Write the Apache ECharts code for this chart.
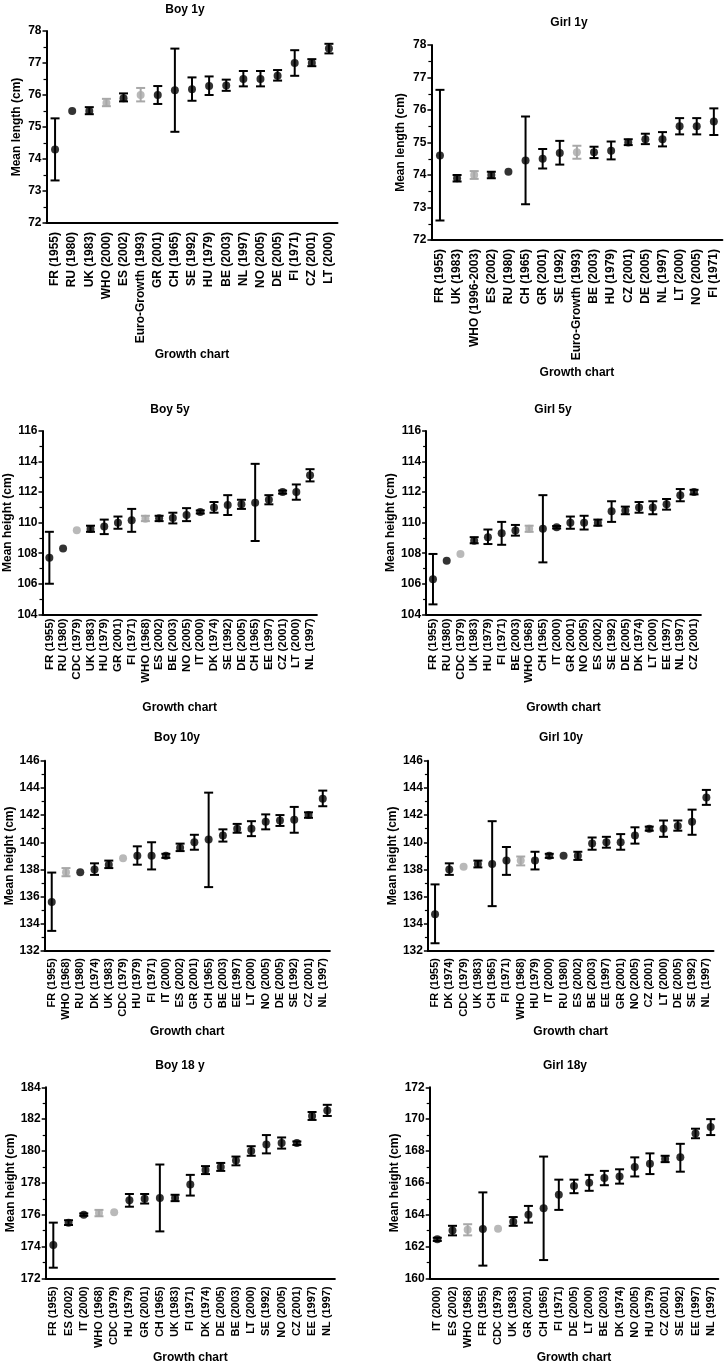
<!DOCTYPE html>
<html><head><meta charset="utf-8">
<script src="https://cdn.jsdelivr.net/npm/echarts/dist/echarts.min.js"></script>
<style>html,body{margin:0;padding:0;background:#fff}#c{width:728px;height:1365px}</style>
</head><body><div id="c"></div>
<script>
// ---------- DATA ----------
const boy1Cats = ['FR (1955)','RU (1980)','UK (1983)','WHO (2000)','ES (2002)','Euro-Growth (1993)','GR (2001)','CH (1965)','SE (1992)','HU (1979)','BE (2003)','NL (1997)','NO (2005)','DE (2005)','FI (1971)','CZ (2001)','LT (2000)'];
const boy1Mean = [74.3,75.5,75.5,75.75,75.9,76.0,76.0,76.15,76.18,76.28,76.3,76.5,76.5,76.6,77.0,77.0,77.45];
const boy1Low  = [73.33,null,75.4,75.65,75.8,75.8,75.72,74.85,75.82,76.0,76.13,76.27,76.27,76.45,76.6,76.9,77.3];
const boy1High = [75.27,null,75.62,75.88,76.05,76.22,76.28,77.45,76.55,76.58,76.48,76.75,76.75,76.78,77.4,77.12,77.6];

const girl1Cats = ['FR (1955)','UK (1983)','WHO (1996-2003)','ES (2002)','RU (1980)','CH (1965)','GR (2001)','SE (1992)','Euro-Growth (1993)','BE (2003)','HU (1979)','CZ (2001)','DE (2005)','NL (1997)','LT (2000)','NO (2005)','FI (1971)'];
const girl1Mean = [74.6,73.9,74.0,74.0,74.1,74.45,74.5,74.68,74.7,74.7,74.75,75.0,75.1,75.1,75.5,75.5,75.65];
const girl1Low  = [72.6,73.8,73.88,73.9,null,73.1,74.2,74.32,74.5,74.52,74.48,74.92,74.95,74.88,75.25,75.25,75.23];
const girl1High = [76.62,74.0,74.12,74.1,null,75.8,74.8,75.05,74.9,74.87,75.03,75.1,75.27,75.32,75.75,75.75,76.05];

const boy5Cats = ['FR (1955)','RU (1980)','CDC (1979)','UK (1983)','HU (1979)','GR (2001)','FI (1971)','WHO (1968)','ES (2002)','BE (2003)','NO (2005)','IT (2000)','DK (1974)','SE (1992)','DE (2005)','CH (1965)','EE (1997)','CZ (2001)','LT (2000)','NL (1997)'];
const boy5Mean = [107.7,108.3,109.5,109.58,109.74,110.0,110.15,110.26,110.28,110.3,110.5,110.7,111.0,111.15,111.2,111.3,111.5,112.0,112.0,113.1];
const boy5Low  = [106.0,null,null,109.4,109.25,109.6,109.4,110.1,110.1,109.95,110.1,110.6,110.65,110.5,110.9,108.8,111.2,111.9,111.5,112.7];
const boy5High = [109.4,null,null,109.8,110.2,110.4,110.9,110.45,110.45,110.65,110.95,110.8,111.35,111.8,111.5,113.85,111.8,112.1,112.5,113.5];

const girl5Cats = ['FR (1955)','RU (1980)','CDC (1979)','UK (1983)','HU (1979)','FI (1971)','BE (2003)','WHO (1968)','CH (1965)','IT (2000)','GR (2001)','NO (2005)','ES (2002)','SE (1992)','DE (2005)','DK (1974)','LT (2000)','EE (1997)','NL (1997)','CZ (2001)'];
const girl5Mean = [106.3,107.5,107.95,108.82,109.05,109.3,109.48,109.6,109.6,109.7,110.0,110.0,110.0,110.75,110.8,111.0,111.0,111.2,111.8,112.0];
const girl5Low  = [104.65,null,null,108.65,108.6,108.55,109.15,109.4,107.4,109.62,109.6,109.55,109.8,110.05,110.55,110.65,110.55,110.85,111.4,111.85];
const girl5High = [107.95,null,null,109.05,109.55,110.05,109.85,109.8,111.8,109.78,110.4,110.45,110.2,111.4,111.05,111.35,111.4,111.55,112.2,112.15];

const boy10Cats = ['FR (1955)','WHO (1968)','RU (1980)','DK (1974)','UK (1983)','CDC (1979)','HU (1979)','FI (1971)','IT (2000)','ES (2002)','GR (2001)','CH (1965)','BE (2003)','EE (1997)','LT (2000)','NO (2005)','DE (2005)','SE (1992)','CZ (2001)','NL (1997)'];
const boy10Mean = [135.6,137.8,137.8,138.0,138.35,138.82,139.0,139.0,139.0,139.6,140.0,140.2,140.5,141.0,141.0,141.5,141.6,141.65,142.0,143.2];
const boy10Low  = [133.48,137.5,null,137.6,138.1,null,138.35,138.0,138.85,139.35,139.45,136.7,140.05,140.7,140.45,140.95,141.2,140.7,141.8,142.65];
const boy10High = [137.77,138.1,null,138.45,138.65,null,139.7,140.0,139.15,139.9,140.55,143.65,140.95,141.35,141.55,142.05,142.0,142.6,142.2,143.8];

const girl10Cats = ['FR (1955)','DK (1974)','CDC (1979)','UK (1983)','CH (1965)','FI (1971)','WHO (1968)','HU (1979)','IT (2000)','RU (1980)','ES (2002)','BE (2003)','EE (1997)','GR (2001)','NO (2005)','CZ (2001)','LT (2000)','DE (2005)','SE (1992)','NL (1997)'];
const girl10Mean = [134.7,138.0,138.2,138.4,138.4,138.65,138.65,138.65,139.0,139.0,139.0,139.9,140.0,140.0,140.5,141.0,141.0,141.2,141.5,143.3];
const girl10Low  = [132.57,137.6,null,138.15,135.3,137.6,138.3,138.0,138.85,null,138.7,139.45,139.6,139.45,139.9,140.85,140.4,140.85,140.55,142.75];
const girl10High = [136.9,138.45,null,138.65,141.55,139.65,138.95,139.3,139.15,null,139.3,140.35,140.4,140.6,141.1,141.15,141.6,141.6,142.4,143.85];

const boy18Cats = ['FR (1955)','ES (2002)','IT (2000)','WHO (1968)','CDC (1979)','HU (1979)','GR (2001)','CH (1965)','UK (1983)','FI (1971)','DK (1974)','DE (2005)','BE (2003)','LT (2000)','SE (1992)','NO (2005)','CZ (2001)','EE (1997)','NL (1997)'];
const boy18Mean = [174.1,175.5,176.0,176.1,176.15,176.9,177.0,177.05,177.05,177.9,178.8,179.0,179.4,180.0,180.4,180.5,180.5,182.2,182.55];
const boy18Low  = [172.67,175.35,175.93,175.9,null,176.5,176.7,174.95,176.85,177.2,178.55,178.75,179.1,179.7,179.85,180.15,180.38,181.95,182.2];
const boy18High = [175.5,175.65,176.08,176.3,null,177.3,177.3,179.15,177.25,178.5,179.05,179.25,179.65,180.3,181.0,180.85,180.6,182.45,182.9];

const girl18Cats = ['IT (2000)','ES (2002)','WHO (1968)','FR (1955)','CDC (1979)','UK (1983)','GR (2001)','CH (1965)','FI (1971)','DE (2005)','LT (2000)','BE (2003)','DK (1974)','NO (2005)','HU (1979)','CZ (2001)','SE (1992)','EE (1997)','NL (1997)'];
const girl18Mean = [162.45,163.0,163.05,163.1,163.12,163.55,164.0,164.4,165.25,165.8,166.0,166.3,166.4,167.0,167.2,167.5,167.6,169.1,169.5];
const girl18Low  = [162.35,162.7,162.7,160.8,null,163.3,163.5,161.15,164.3,165.35,165.5,165.85,165.95,166.4,166.55,167.3,166.7,168.8,169.0];
const girl18High = [162.55,163.3,163.4,165.4,null,163.85,164.55,167.65,166.2,166.2,166.5,166.75,166.85,167.6,167.85,167.7,168.45,169.4,170.0];

const panelTitles = ['Boy 1y','Girl 1y','Boy 5y','Girl 5y','Boy 10y','Girl 10y','Boy 18 y','Girl 18y'];
const yTitles = ['Mean length (cm)','Mean length (cm)','Mean height (cm)','Mean height (cm)','Mean height (cm)','Mean height (cm)','Mean height (cm)','Mean height (cm)'];
const xTitle = 'Growth chart';
const yMins = [72,72,104,104,132,132,172,160];
const yMaxs = [78,78,116,116,146,146,184,172];
const yIntervals = [1,1,2,2,2,2,2,2];

// ---------- LAYOUT ----------
const FONT = '"Liberation Sans", Arial, sans-serif';
const layouts = [
  {left:46.5, top:31, width:291, height:192, nameGap:126, yGap:24, tx:185, ty:10, lf:12, lm:9},
  {left:431.4, top:45, width:291, height:195, nameGap:127, yGap:25, tx:569, ty:23, lf:12, lm:9},
  {left:42.5, top:431, width:274.4, height:183.3, nameGap:87, yGap:28, tx:170, ty:410, lf:11.5, lm:4},
  {left:426.1, top:431, width:274.8, height:183.3, nameGap:87, yGap:28, tx:553, ty:410, lf:11.5, lm:4},
  {left:44.6, top:760.7, width:285.3, height:190.3, nameGap:75, yGap:29, tx:177, ty:738, lf:11, lm:7},
  {left:427.9, top:760.7, width:285.6, height:190.3, nameGap:75, yGap:29, tx:561, ty:738, lf:11, lm:7},
  {left:45.7, top:1087.3, width:289.2, height:192.7, nameGap:70, yGap:27, tx:180, ty:1066, lf:11, lm:8},
  {left:429.7, top:1087.3, width:288.6, height:192.7, nameGap:70, yGap:28, tx:565, ty:1066, lf:11, lm:8}
];

const panels = [
  [boy1Cats, boy1Mean, boy1Low, boy1High],
  [girl1Cats, girl1Mean, girl1Low, girl1High],
  [boy5Cats, boy5Mean, boy5Low, boy5High],
  [girl5Cats, girl5Mean, girl5Low, girl5High],
  [boy10Cats, boy10Mean, boy10Low, boy10High],
  [girl10Cats, girl10Mean, girl10Low, girl10High],
  [boy18Cats, boy18Mean, boy18Low, boy18High],
  [girl18Cats, girl18Mean, girl18Low, girl18High]
];

const GRAY = '#a8a8a8';
function isRef(name){ return /^(WHO|CDC|Euro-Growth)/.test(name); }

const grid = [], xAxis = [], yAxis = [], series = [], graphic = [];
panels.forEach((p, k) => {
  const [cats, mean, low, high] = p;
  const L = layouts[k];
  grid.push({left:L.left, top:L.top, width:L.width, height:L.height, containLabel:false});
  xAxis.push({
    type:'category', gridIndex:k, data:cats, boundaryGap:true,
    axisLine:{lineStyle:{color:'#000', width:2}},
    axisTick:{alignWithLabel:true, length:3, lineStyle:{color:'#000', width:1.5}},
    axisLabel:{rotate:90, interval:0, margin:L.lm, color:'#000', fontSize:L.lf, fontWeight:'bold', fontFamily:FONT},
    name:xTitle, nameLocation:'middle', nameGap:L.nameGap,
    nameTextStyle:{color:'#000', fontSize:12, fontWeight:'bold', fontFamily:FONT},
    splitLine:{show:false}
  });
  yAxis.push({
    type:'value', gridIndex:k, min:yMins[k], max:yMaxs[k], interval:yIntervals[k],
    axisLine:{show:true, lineStyle:{color:'#000', width:2}},
    axisTick:{show:true, length:4, lineStyle:{color:'#000', width:1.5}},
    minorTick:{show:true, splitNumber:2, length:3, lineStyle:{color:'#000', width:1.2}},
    axisLabel:{margin:5, color:'#000', fontSize:12, fontWeight:'bold', fontFamily:FONT},
    splitLine:{show:false},
    name:yTitles[k], nameLocation:'middle', nameGap:L.yGap, nameRotate:90,
    nameTextStyle:{color:'#000', fontSize:12, fontWeight:'bold', fontFamily:FONT, verticalAlign:'bottom'}
  });
  const errData = cats.map((c, i) => [i, low[i], high[i]]);
  series.push({
    type:'custom', xAxisIndex:k, yAxisIndex:k, data:errData, z:2, silent:true,
    renderItem: function(params, api){
      const idx = api.value(0);
      const lo = low[idx], hi = high[idx];
      if (lo == null || hi == null) return null;
      const pt = api.coord([idx, hi]);
      const pb = api.coord([idx, lo]);
      const col = isRef(cats[idx]) ? GRAY : '#000';
      const hw = 4.5;
      const st = {stroke:col, lineWidth:2};
      return {type:'group', children:[
        {type:'line', shape:{x1:pt[0], y1:pt[1], x2:pb[0], y2:pb[1]}, style:st},
        {type:'line', shape:{x1:pt[0]-hw, y1:pt[1], x2:pt[0]+hw, y2:pt[1]}, style:st},
        {type:'line', shape:{x1:pb[0]-hw, y1:pb[1], x2:pb[0]+hw, y2:pb[1]}, style:st}
      ]};
    }
  });
  series.push({
    type:'scatter', xAxisIndex:k, yAxisIndex:k, z:3, symbol:'circle', symbolSize:8, silent:true,
    data: cats.map((c, i) => ({value:[i, mean[i]], itemStyle:{color: isRef(c) ? GRAY : '#000'}}))
  });
  graphic.push({type:'text', x:L.tx, y:L.ty, style:{text:panelTitles[k], fill:'#000', font:'bold 12px ' + FONT, textAlign:'center', textVerticalAlign:'middle'}});
});

const chart = echarts.init(document.getElementById('c'), null, {renderer:'canvas'});
chart.setOption({animation:false, backgroundColor:'#fff', grid, xAxis, yAxis, series, graphic});
</script></body></html>
